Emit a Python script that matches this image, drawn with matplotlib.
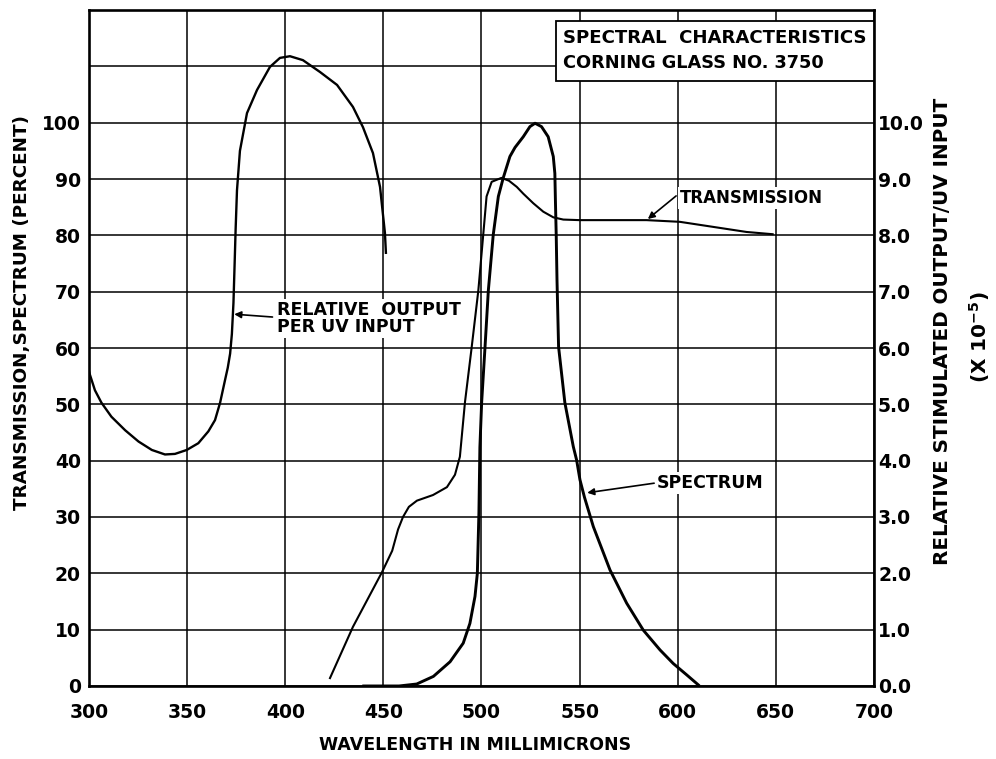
import numpy as np
import matplotlib.pyplot as plt
from matplotlib.patches import Rectangle

# relative stimulated output per UV input (plotted on the percent scale, right axis = /10)
wl_output = [300, 300.5, 303, 306.3, 311.4, 318.4, 325.2, 332, 338.7, 343.8, 349.8,
             355.7, 360.8, 364.2, 366.8, 369.3, 370.7, 371.9, 372.8, 373.6, 374.2, 374.7,
             375.4, 376.9, 380.5, 385.6, 392.2, 397.3, 402.4, 409, 417.7, 426.4, 434.5,
             439.6, 444.7, 448.3, 450.8, 451.3]
output = [55.8, 55.2, 52.5, 50.3, 47.8, 45.4, 43.4, 41.9, 41.1, 41.2, 41.9,
          43.1, 45.2, 47.2, 50.3, 54.3, 56.5, 59, 62.5, 68, 75, 81,
          88, 95, 101.7, 105.8, 109.9, 111.5, 111.8, 111.1, 109, 106.7, 102.8,
          99.2, 94.6, 88.6, 80.4, 76.9]

# transmission (percent)
wl_trans = [422.8, 434.5, 449.3, 454.5, 457.5, 460, 463, 467.1, 475.3, 482.4, 486.5, 489,
            491.6, 495, 498.4, 500.9, 502.6, 505.2, 510.2, 514, 518, 521.3, 526.4,
            531.5, 536.6, 541.7, 550, 584.1, 601.1, 618.1, 635.1, 648.4]
trans = [1.4, 10.5, 20.2, 24.0, 27.8, 30.0, 31.8, 32.9, 33.9, 35.3, 37.5, 40.7,
         50.4, 60.1, 70.2, 80.1, 86.9, 89.5, 90.2, 89.7, 88.6, 87.4, 85.7,
         84.2, 83.2, 82.8, 82.7, 82.7, 82.4, 81.5, 80.6, 80.2]

# emission spectrum (percent)
wl_spec = [440, 458, 467, 475.5, 484, 490.7, 494.1, 496.7, 497.9, 498.7, 499.2, 500.1,
           501.8, 503.5, 506, 508.6, 511.1, 514.5, 517.1, 521.3, 524.7, 527.3, 530.6,
           534, 536.6, 537.4, 537.7, 538.1, 538.5, 539.3, 542.5, 546.8, 548.5, 550.2,
           552.5, 557, 565.5, 574, 582.5, 591, 597.7, 604.5, 610.5]
spec = [0, 0, 0.35, 1.7, 4.3, 7.6, 11.1, 15.9, 20, 30.7, 42.4, 50.4,
        60.1, 70.2, 80.1, 86.9, 90.2, 94, 95.6, 97.5, 99.3, 99.9, 99.3,
        97.5, 94, 91, 86, 80, 72, 60.2, 50.3, 42.5, 40.1, 36.6,
        33.5, 28.3, 20.6, 14.7, 9.9, 6.4, 4, 2, 0.2]

x_ticks = [300, 350, 400, 450, 500, 550, 600, 650, 700]
left_ticks = [0, 10, 20, 30, 40, 50, 60, 70, 80, 90, 100, 110]
left_labels = ["0", "10", "20", "30", "40", "50", "60", "70", "80", "90", "100", ""]
right_ticks = [0, 1, 2, 3, 4, 5, 6, 7, 8, 9, 10]

plt.rcParams["font.family"] = "DejaVu Sans"
plt.rcParams["font.weight"] = "bold"

fig = plt.figure(figsize=(9.96, 7.59), dpi=100)
ax = fig.add_axes([0.0894, 0.0962, 0.788, 0.8906])

ax.set_xlim(300, 700)
ax.set_ylim(0, 120)
ax.set_xticks(x_ticks)
ax.set_yticks(left_ticks)
ax.set_yticklabels(left_labels)
ax.grid(True, color="black", lw=1.1)
ax.set_axisbelow(True)
ax.tick_params(length=0, labelsize=13.5, pad=6)
ax.tick_params(axis="x", pad=12)
for s in ax.spines.values():
    s.set_linewidth(1.9)

ax.plot(wl_output, output, color="black", lw=1.7, zorder=3)
ax.plot(wl_trans, trans, color="black", lw=1.5, zorder=3)
ax.plot(wl_spec, spec, color="black", lw=2.1, zorder=3)

ax2 = ax.twinx()
ax2.set_ylim(0, 12)
ax2.set_yticks(right_ticks)
ax2.set_yticklabels(["%.1f" % v for v in right_ticks])
ax2.tick_params(length=0, labelsize=13.5, pad=3)
for s in ax2.spines.values():
    s.set_visible(False)

ax.set_xlabel("WAVELENGTH IN MILLIMICRONS", fontsize=12.5, fontweight="bold", va="center")
ax.xaxis.set_label_coords(0.492, -0.087)
ax.set_ylabel("TRANSMISSION,SPECTRUM (PERCENT)", fontsize=13.2, fontweight="bold",
              va="center")
ax.yaxis.set_label_coords(-0.085, 0.552)
ax.text(1.088, 0.525, "RELATIVE STIMULATED OUTPUT/UV INPUT", transform=ax.transAxes,
        rotation=90, ha="center", va="center", fontsize=14.3, fontweight="bold")
ax.text(1.134, 0.516, "(X 10$^{\\mathbf{-5}}$)", transform=ax.transAxes,
        rotation=90, ha="center", va="center", fontsize=14.5, fontweight="bold")

# title box
ax.add_patch(Rectangle((0.595, 0.895), 0.405, 0.089, transform=ax.transAxes,
                       facecolor="white", edgecolor="black", lw=1.3, zorder=5, clip_on=False))
ax.text(0.604, 0.958, "SPECTRAL  CHARACTERISTICS", transform=ax.transAxes,
        ha="left", va="center", fontsize=13.1, fontweight="bold", zorder=6)
ax.text(0.604, 0.922, "CORNING GLASS NO. 3750", transform=ax.transAxes,
        ha="left", va="center", fontsize=12.8, fontweight="bold", zorder=6)

# curve labels with arrows
box = dict(facecolor="white", edgecolor="none", pad=1.5)
arrow = dict(arrowstyle="-|>", color="black", lw=1.2, mutation_scale=10,
             shrinkA=0, shrinkB=0)
ax.text(395.8, 65.2, "RELATIVE  OUTPUT\nPER UV INPUT", ha="left", va="center",
        fontsize=12.5, fontweight="bold", linespacing=0.95, bbox=box, zorder=4)
ax.annotate("", xy=(374.0, 66.0), xytext=(393.5, 65.5), arrowprops=arrow, zorder=4)
ax.text(601.1, 86.6, "TRANSMISSION", ha="left", va="center",
        fontsize=12, fontweight="bold", bbox=box, zorder=4)
ax.annotate("", xy=(584.8, 82.9), xytext=(599.2, 87.0), arrowprops=arrow, zorder=4)
ax.text(589.4, 36.0, "SPECTRUM", ha="left", va="center",
        fontsize=12.5, fontweight="bold", bbox=box, zorder=4)
ax.annotate("", xy=(553.9, 34.3), xytext=(588.0, 36.0), arrowprops=arrow, zorder=4)

fig.savefig("out.png", dpi=100)
